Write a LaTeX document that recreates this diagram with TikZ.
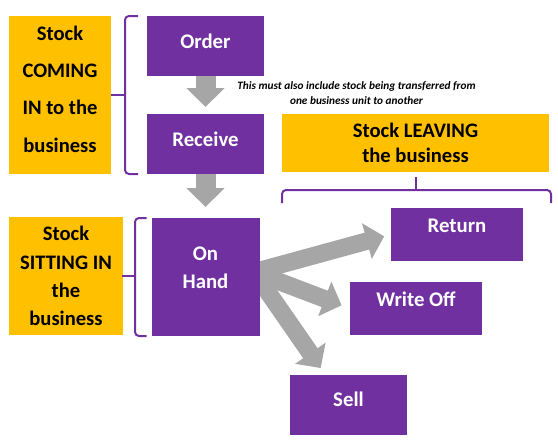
\documentclass[tikz,border=0pt]{standalone}
\usepackage{fontspec}
\setmainfont{Carlito}
\usetikzlibrary{positioning,arrows.meta,backgrounds}
\definecolor{StockPurple}{HTML}{7030A0}
\definecolor{StockOrange}{HTML}{FFC000}
\definecolor{StockGray}{HTML}{A6A6A6}

\begin{document}
\begin{tikzpicture}[x=1pt, y=-1pt, node distance = 38pt,
BoxStyle/.style={fill=StockPurple, text=white, font=\bfseries\fontsize{20.8}{24}\selectfont,
                minimum width=117pt, minimum height=60pt, inner sep=0pt,
                outer sep=0pt, text height=14pt, text depth=9.5pt},
TagStyle/.style={fill=StockOrange, text=black, font=\bfseries\fontsize{20.6}{28.3}\selectfont,
                align=center, inner sep=0pt, outer sep=0pt},
TxtStyle/.style={inner sep=0pt, align=center},
BraceStyle/.style={draw=StockPurple, line width=2pt, rounded corners=4pt},
DownArrow/.style={draw=StockGray, line width=20pt, -{Triangle[length=19pt, width=37pt]}},
FanArrow/.style={draw=StockGray, line width=17.5pt, -{Triangle[length=18pt, width=36pt]}},]
\useasboundingbox (0,0) rectangle (558,442);
% main column
\node [BoxStyle] at (205.5,46) (order) {Order};
\node [BoxStyle, below=of order] (receive) {Receive};
\node [BoxStyle, below=44pt of receive, minimum width=108pt, minimum height=118pt] (onhand) {};
\node [TxtStyle, text=white, font=\bfseries\fontsize{20.8}{28}\selectfont] at ([yshift=9pt]onhand) (onhandtext) {On\\Hand};
% outgoing
\node [BoxStyle, minimum width=132pt, minimum height=53pt, text depth=19pt] at (457,234.5) (return) {Return};
\node [BoxStyle, minimum width=132pt, minimum height=53pt, text depth=19pt] at (416,308.5) (writeoff) {Write Off};
\node [BoxStyle, text depth=10.5pt] at (348.5,405) (sell) {Sell};
% orange tags
\node [TagStyle, minimum width=102pt, minimum height=158pt] at (60,95) (coming) {};
\node [TxtStyle, font=\bfseries\fontsize{20.6}{37.3}\selectfont] at (60,89) (comingtext) {Stock\\COMING\\IN to the\\business};
\node [TagStyle, minimum width=114pt, minimum height=118pt] at (66,276) (sitting) {Stock\\SITTING IN\\the\\business};
\node [TagStyle, minimum width=267pt, minimum height=58pt,
       font=\bfseries\fontsize{20.6}{25.5}\selectfont] at (415.5,143) (leaving) {Stock LEAVING\\the business};
\node [TxtStyle, font=\bfseries\itshape\fontsize{11.3}{15}\selectfont] at (356.5,93.5) (note)
      {This must also include stock being transferred from\\one business unit to another};
% braces
\draw [BraceStyle] ([xshift=-9pt]order.north west) -| ([xshift=14pt]coming.east)
                   |- ([xshift=-9pt]receive.south west);
\draw [BraceStyle] ([xshift=14pt]coming.east) -- (coming.east);
\draw [BraceStyle] ([xshift=-5pt]onhand.north west) -| ([xshift=12pt]sitting.east)
                   |- ([xshift=-5pt]onhand.south west);
\draw [BraceStyle] ([xshift=12pt]sitting.east) -- ([xshift=-1pt]sitting.east);
\draw [BraceStyle] ([yshift=-31pt]leaving.south west) |- ([xshift=2pt, yshift=-18pt]leaving.south east)
                   -- ++(0,13);
\draw [BraceStyle] ([yshift=-18pt]leaving.south) -- ([yshift=-5pt]leaving.south);
% arrows
\draw [DownArrow, shorten >=7pt] (order) -- (receive);
\draw [DownArrow, shorten >=11pt] (receive) -- (onhand);
\coordinate (fan) at (254,272);
\begin{pgfonlayer}{background}
\fill [white] (0,0) rectangle (558,442);
\draw [FanArrow, shorten >=7pt] (fan) -- (return.west);
\draw [FanArrow, shorten >=9pt] (fan) -- (writeoff.west);
\draw [FanArrow, shorten >=8.5pt] (fan) -- ([xshift=-23pt]sell.north);
\end{pgfonlayer}
\end{tikzpicture}
\end{document}
